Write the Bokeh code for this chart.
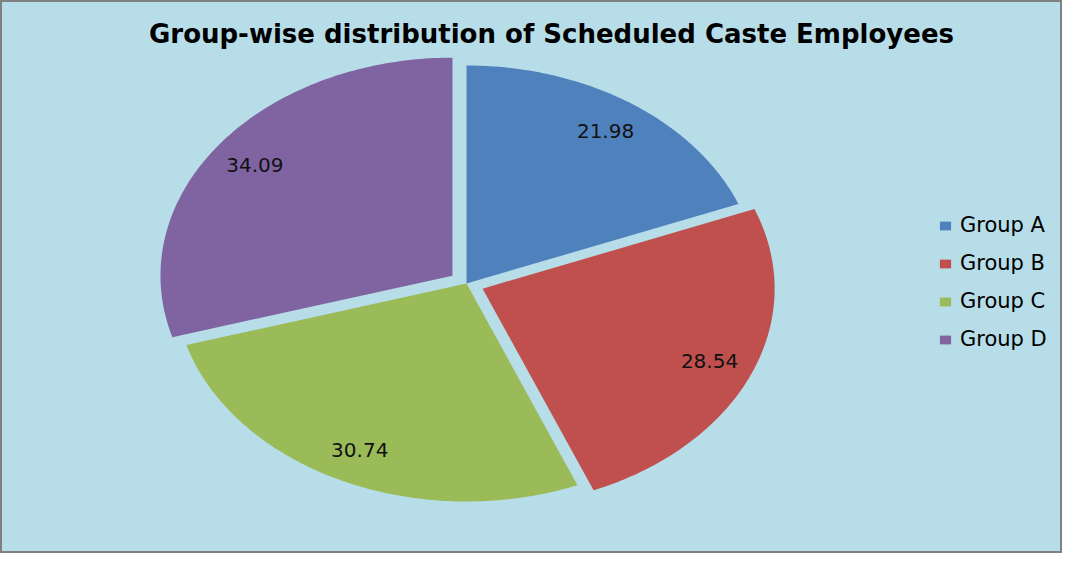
import numpy as np
from bokeh.plotting import figure
from bokeh.models import Range1d, Label, Legend, LegendItem
from bokeh.core.properties import value
from bokeh.embed import file_html
from bokeh.resources import INLINE

title_text = "Group-wise distribution of Scheduled Caste Employees"
groups = ["Group A", "Group B", "Group C", "Group D"]
shares = [21.98, 28.54, 30.74, 34.09]
colors = ["#4F81BD", "#C0504D", "#9BBB59", "#8064A2"]
explode = [0.0, 0.06, 0.0, 0.06]

BG = "#B7DDE8"
W, H = 1062, 553
cx_px, cy_px = 466, 283   # pie centre in pixels from top-left of the frame
rx_px, ry_px = 292, 218   # pie radii in pixels (stretched ellipse)

p = figure(width=W, height=H, output_backend="svg", toolbar_location=None,
           x_range=Range1d(-cx_px / rx_px, (W - cx_px) / rx_px),
           y_range=Range1d(-(H - cy_px) / ry_px, cy_px / ry_px),
           x_axis_type=None, y_axis_type=None, min_border=0)
p.background_fill_color = BG
p.border_fill_color = BG
p.outline_line_color = "#808080"
p.outline_line_width = 3
p.xgrid.visible = False
p.ygrid.visible = False

vals = np.array(shares, dtype=float)
total = vals.sum()
cum = np.concatenate([[0.0], np.cumsum(vals)])
start = np.deg2rad(90.0 - 360.0 * cum[:-1] / total)
end = np.deg2rad(90.0 - 360.0 * cum[1:] / total)
mid = (start + end) / 2.0

items = []
for i in range(len(groups)):
    ox = explode[i] * np.cos(mid[i])
    oy = explode[i] * np.sin(mid[i])
    t = np.linspace(start[i], end[i], 120)
    xs = np.concatenate([[ox], ox + np.cos(t)])
    ys = np.concatenate([[oy], oy + np.sin(t)])
    r = p.patch(xs, ys, fill_color=colors[i], line_color=None)
    items.append(LegendItem(label=groups[i], renderers=[r]))

lr = 0.845
lx = [(lr + explode[i]) * np.cos(mid[i]) for i in range(len(groups))]
ly = [(lr + explode[i]) * np.sin(mid[i]) for i in range(len(groups))]
p.text(x=lx, y=ly, text=[f"{v:.2f}" for v in shares],
       text_font=value("DejaVu Sans"), text_font_size="20px",
       text_align="center", text_baseline="middle", text_color="#111111")

legend = Legend(items=items, location=(938, 202), orientation="vertical",
                glyph_width=14, glyph_height=11, label_standoff=8,
                label_height=20, spacing=14, padding=0, margin=0,
                label_text_font="DejaVu Sans", label_text_font_size="21px",
                label_text_color="#000000",
                border_line_color=None, background_fill_alpha=0)
p.add_layout(legend)

p.add_layout(Label(x=551, y=H - 33, x_units="screen", y_units="screen",
                   text=title_text, text_align="center", text_baseline="middle",
                   text_font="DejaVu Sans", text_font_style="bold",
                   text_font_size="26px", text_color="#000000"))

open("out.html", "w").write(file_html(p, INLINE))
